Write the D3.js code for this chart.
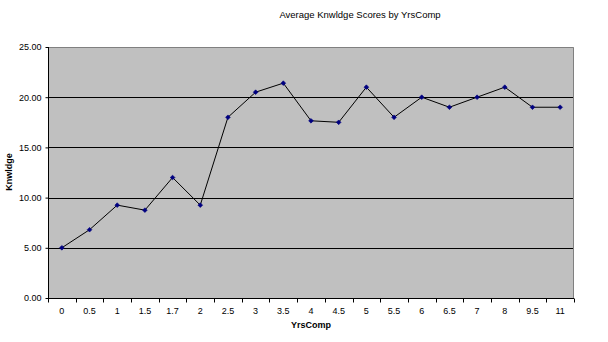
<!DOCTYPE html>
<html>
<head>
<meta charset="utf-8">
<script src="https://cdn.jsdelivr.net/npm/d3@7"></script>
<style>
  html, body { margin: 0; padding: 0; background: #fff; }
  svg { display: block; font-family: Arial, "Liberation Sans", sans-serif; }
</style>
</head>
<body>
<svg id="chart" width="608" height="342"></svg>
<script>
// Years of computer use and the average knowledge score at each
const yrsComp = ["0", "0.5", "1", "1.5", "1.7", "2", "2.5", "3", "3.5", "4", "4.5",
                 "5", "5.5", "6", "6.5", "7", "8", "9.5", "11"];
const knwldge = [5.0, 6.8, 9.25, 8.75, 12.0, 9.25, 18.0, 20.5, 21.4, 17.65, 17.5,
                 21.0, 18.0, 20.0, 19.0, 20.0, 21.0, 19.0, 19.0];
const yTicks = [0, 5, 10, 15, 20, 25];

const chartTitle = "Average Knwldge Scores by YrsComp";
const xTitle = "YrsComp";
const yTitle = "Knwldge";

const svg = d3.select("#chart");
const plot = { left: 48, top: 47, right: 574, bottom: 298 };

const x = d3.scaleBand().domain(yrsComp).range([plot.left, plot.right]);
const y = d3.scaleLinear().domain([0, 25]).range([plot.bottom, plot.top]);

// plot area
svg.append("rect")
  .attr("x", plot.left).attr("y", plot.top)
  .attr("width", plot.right - plot.left).attr("height", plot.bottom - plot.top)
  .attr("fill", "#c0c0c0");

// frame on top and right
svg.append("path")
  .attr("d", `M${plot.left},${plot.top + 0.5}H${plot.right - 0.5}V${plot.bottom}`)
  .attr("fill", "none").attr("stroke", "#808080").attr("stroke-width", 1);

// horizontal gridlines
svg.append("g")
  .selectAll("line")
  .data(yTicks.filter(d => d > 0 && d < 25))
  .join("line")
  .attr("x1", plot.left).attr("x2", plot.right - 1)
  .attr("y1", d => Math.round(y(d)) + 0.5).attr("y2", d => Math.round(y(d)) + 0.5)
  .attr("stroke", "#000").attr("stroke-width", 1);

// y axis
const yAxis = svg.append("g")
  .attr("transform", `translate(${plot.left + 0.5},0)`)
  .call(d3.axisLeft(y).tickValues(yTicks).tickFormat(d3.format(".2f")).tickSize(3).tickPadding(4));
yAxis.select(".domain").attr("stroke", "#000").attr("d", `M0,${plot.top}V${plot.bottom}`);
yAxis.selectAll(".tick line").attr("stroke", "#000");
yAxis.selectAll(".tick text").attr("font-size", 9).attr("fill", "#000")
  .attr("font-family", "Arial, 'Liberation Sans', sans-serif");

// x axis: ticks fall on category boundaries, labels at category centres
const xAxisG = svg.append("g").attr("transform", `translate(0,${plot.bottom + 0.5})`);
xAxisG.append("line")
  .attr("x1", plot.left).attr("x2", plot.right)
  .attr("stroke", "#000");
const bounds = yrsComp.map(d => x(d)).concat([x(yrsComp[yrsComp.length - 1]) + x.bandwidth()]);
xAxisG.selectAll("line.tk")
  .data(bounds)
  .join("line").attr("class", "tk")
  .attr("x1", d => Math.round(d) + 0.5).attr("x2", d => Math.round(d) + 0.5)
  .attr("y1", 0).attr("y2", 4)
  .attr("stroke", "#000");
xAxisG.selectAll("text")
  .data(yrsComp)
  .join("text")
  .attr("x", d => x(d) + x.bandwidth() / 2)
  .attr("y", 15)
  .attr("text-anchor", "middle")
  .attr("font-size", 9)
  .attr("fill", "#000")
  .text(d => d);

// data line
const line = d3.line()
  .x((d, i) => x(yrsComp[i]) + x.bandwidth() / 2)
  .y(d => y(d));
svg.append("path")
  .datum(knwldge)
  .attr("d", line)
  .attr("fill", "none")
  .attr("stroke", "#000")
  .attr("stroke-width", 1);

// markers: small navy diamonds (squares turned 45°)
svg.append("g")
  .selectAll("path")
  .data(knwldge)
  .join("path")
  .attr("transform", (d, i) => `translate(${x(yrsComp[i]) + x.bandwidth() / 2},${y(d)}) rotate(45)`)
  .attr("d", d3.symbol().type(d3.symbolSquare).size(11))
  .attr("fill", "#000080")
  .attr("stroke", "#000080")
  .attr("stroke-width", 0.6);

// titles
svg.append("text")
  .attr("x", 360).attr("y", 18)
  .attr("text-anchor", "middle")
  .attr("font-size", 9.5)
  .attr("fill", "#000")
  .text(chartTitle);

svg.append("text")
  .attr("x", 311).attr("y", 328)
  .attr("text-anchor", "middle")
  .attr("font-size", 9)
  .attr("font-weight", "bold")
  .attr("fill", "#000")
  .text(xTitle);

svg.append("text")
  .attr("transform", "translate(12,172) rotate(-90)")
  .attr("text-anchor", "middle")
  .attr("font-size", 9)
  .attr("font-weight", "bold")
  .attr("fill", "#000")
  .text(yTitle);
</script>
</body>
</html>
